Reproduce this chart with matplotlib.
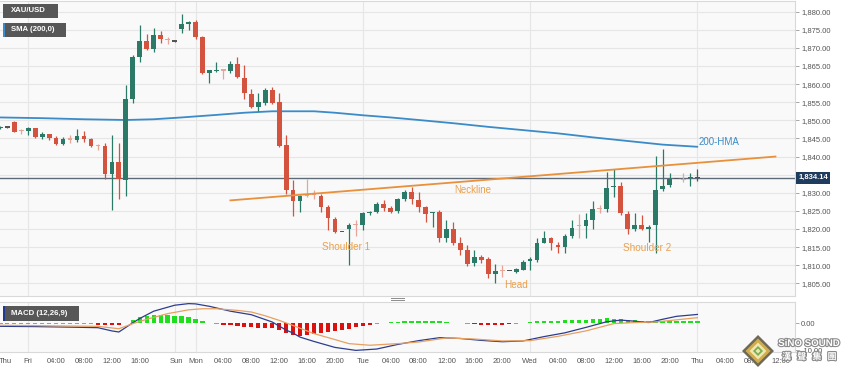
import matplotlib
matplotlib.use('Agg')
import matplotlib.pyplot as plt
import matplotlib.patheffects as pe
import matplotlib.transforms as mtransforms
from matplotlib.patches import Rectangle, Polygon
from matplotlib.lines import Line2D

plt.rcParams['font.family'] = ['Liberation Sans', 'DejaVu Sans']

# ---------------- data (hourly candles, weekend compressed) ----------------
candle_open = [1847.8, 1848.0, 1849.6, 1847.2, 1847.1, 1847.9, 1845.5, 1846.1, 1845.0, 1843.5,
               1844.9, 1844.6, 1845.7, 1844.8, 1843.0, 1843.0, 1835.1, 1838.4, 1833.4, 1855.8,
               1867.6, 1871.9, 1869.8, 1873.7, 1872.3, 1871.7, 1875.2, 1876.7, 1877.2, 1872.9,
               1863.2, 1863.6, 1863.8, 1863.7, 1865.6, 1861.8, 1857.4, 1853.6, 1854.9, 1858.4,
               1855.0, 1843.1, 1830.7, 1827.6, 1829.3, 1829.7, 1829.1, 1826.1, 1822.8, 1819.2,
               1819.9, 1821.3, 1821.0, 1824.3, 1824.6, 1827.0, 1825.7, 1824.9, 1828.2, 1830.1,
               1827.9, 1826.0, 1824.3, 1824.7, 1817.4, 1820.1, 1816.0, 1814.1, 1810.6, 1812.3,
               1811.6, 1807.5, 1808.4, 1808.4, 1808.1, 1808.8, 1811.2, 1811.4, 1816.0, 1817.4,
               1815.7, 1814.9, 1818.0, 1820.8, 1820.8, 1822.4, 1825.5, 1825.4, 1831.5, 1831.8,
               1824.1, 1819.9, 1821.2, 1819.9, 1821.2, 1831.1, 1832.1, 1833.8, 1833.6, 1834.0,
               1834.1]
candle_high = [1848.3, 1848.1, 1849.7, 1847.7, 1848.2, 1848.0, 1846.8, 1846.2, 1845.7, 1845.5,
               1846.0, 1847.6, 1847.1, 1845.2, 1843.5, 1843.7, 1846.0, 1843.8, 1859.8, 1868.0,
               1876.2, 1873.8, 1875.5, 1874.6, 1872.9, 1871.8, 1879.4, 1877.3, 1877.8, 1873.2,
               1864.0, 1866.0, 1863.9, 1866.4, 1867.5, 1865.3, 1858.6, 1857.5, 1858.9, 1859.2,
               1857.5, 1846.0, 1833.5, 1829.3, 1833.7, 1830.9, 1829.8, 1826.5, 1823.3, 1819.3,
               1821.7, 1822.6, 1824.7, 1824.9, 1827.4, 1828.0, 1826.4, 1828.5, 1830.8, 1831.7,
               1830.1, 1826.3, 1824.7, 1825.2, 1822.4, 1822.0, 1817.8, 1815.5, 1814.1, 1812.9,
               1812.3, 1810.4, 1810.0, 1808.5, 1809.1, 1811.5, 1812.3, 1817.6, 1819.4, 1817.8,
               1816.4, 1818.5, 1822.6, 1824.1, 1824.3, 1827.8, 1826.6, 1835.8, 1836.7, 1833.0,
               1824.9, 1824.3, 1823.9, 1821.2, 1840.1, 1842.0, 1835.5, 1833.9, 1835.5, 1835.5,
               1836.5]
candle_low = [1847.5, 1847.9, 1846.7, 1846.2, 1846.0, 1845.2, 1844.9, 1844.6, 1843.3, 1843.2,
              1843.8, 1843.9, 1843.9, 1842.6, 1841.8, 1833.8, 1825.2, 1828.4, 1829.2, 1854.8,
              1866.2, 1869.4, 1869.0, 1871.3, 1871.2, 1871.6, 1874.1, 1875.0, 1872.4, 1862.8,
              1860.4, 1863.4, 1861.5, 1863.0, 1861.8, 1856.0, 1853.3, 1852.7, 1854.3, 1854.5,
              1842.7, 1829.8, 1823.6, 1824.6, 1828.7, 1828.4, 1824.7, 1819.7, 1819.0, 1819.1,
              1810.0, 1818.0, 1819.7, 1823.9, 1824.3, 1825.0, 1824.3, 1824.3, 1827.8, 1826.8,
              1824.7, 1822.0, 1820.6, 1816.4, 1816.4, 1815.6, 1812.8, 1809.7, 1809.9, 1810.6,
              1806.6, 1805.1, 1806.7, 1808.3, 1807.8, 1808.6, 1808.6, 1810.8, 1816.0, 1814.3,
              1813.4, 1813.4, 1817.6, 1817.6, 1817.6, 1820.0, 1824.3, 1824.7, 1828.9, 1823.8,
              1818.7, 1819.5, 1819.6, 1816.4, 1813.4, 1830.6, 1831.6, 1833.7, 1832.9, 1831.9,
              1833.3]
candle_close = [1848.1, 1848.0, 1846.9, 1847.1, 1847.8, 1845.5, 1846.1, 1845.0, 1843.5, 1844.8,
                1844.7, 1845.7, 1844.9, 1843.0, 1842.8, 1835.2, 1838.4, 1833.9, 1856.0, 1867.5,
                1871.9, 1869.8, 1873.7, 1872.4, 1872.1, 1871.7, 1876.6, 1877.2, 1873.0, 1863.0,
                1863.8, 1863.7, 1863.7, 1865.6, 1861.9, 1857.5, 1853.6, 1855.0, 1858.4, 1854.9,
                1843.0, 1830.9, 1827.6, 1829.1, 1829.2, 1829.5, 1826.1, 1822.9, 1819.2, 1819.2,
                1821.2, 1821.1, 1824.3, 1824.6, 1827.0, 1825.7, 1824.7, 1828.2, 1830.1, 1828.2,
                1826.1, 1824.1, 1824.7, 1817.4, 1820.1, 1816.2, 1814.1, 1810.4, 1812.3, 1811.4,
                1807.5, 1808.4, 1808.3, 1808.4, 1808.9, 1810.9, 1811.6, 1816.0, 1817.4, 1816.0,
                1814.9, 1818.0, 1820.4, 1820.7, 1822.4, 1825.5, 1825.4, 1831.2, 1831.6, 1824.3,
                1820.1, 1821.2, 1819.9, 1820.6, 1830.9, 1831.8, 1833.7, 1833.8, 1833.5, 1834.1,
                1834.14]

last_price = 1834.14

# 200-HMA (read at selected candles)
hma_idx = [0, 6, 12, 18, 22, 26, 31, 35, 39, 45, 48, 52, 56, 60, 65, 70, 75, 80, 85, 90, 95, 100]
hma_values = [1850.8, 1850.6, 1850.3, 1850.1, 1850.3, 1850.8, 1851.5, 1852.1, 1852.5, 1852.5, 1852.1,
              1851.4, 1850.8, 1850.1, 1849.2, 1848.2, 1847.3, 1846.4, 1845.3, 1844.3, 1843.3, 1842.7]

# Neckline end points
neck_idx = [33, 111.2]
neck_price = [1827.9, 1840.0]

# MACD (12,26,9)
macd_idx = [0, 5, 10, 14, 16, 17, 18, 19, 20, 22, 25, 27, 28, 30, 33, 36, 39, 41, 42, 43, 45, 48,
            51, 54, 57, 60, 63, 66, 69, 72, 75, 78, 81, 84, 87, 89, 91, 93, 95, 97, 100]
macd_line = [-1.1, -1.2, -1.4, -1.6, -2.8, -3.2, -1.5, 0.2, 1.8, 4.5, 6.7, 7.3, 7.2, 6.3, 4.5, 3.2,
             0.5, -2.5, -3.6, -5.1, -6.7, -8.9, -10.0, -9.5, -7.8, -6.4, -5.3, -5.6, -6.3, -6.8,
             -6.5, -4.9, -3.5, -1.5, 0.6, 1.2, 0.8, 0.3, 1.5, 2.6, 3.3]
signal_idx = [0, 10, 14, 17, 19, 21, 24, 27, 29, 31, 34, 36, 38, 40, 42, 45, 48, 50, 53, 57, 60,
              64, 68, 72, 76, 80, 84, 88, 91, 94, 97, 100]
signal_line = [-0.7, -1.0, -1.1, -2.0, -0.1, 1.5, 3.6, 5.0, 5.4, 5.4, 4.8, 4.2, 2.8, 1.1, -0.8,
               -3.8, -6.0, -7.5, -8.1, -7.5, -6.9, -5.4, -5.8, -6.5, -6.4, -4.8, -2.8, -0.1, 0.3,
               0.5, 1.3, 2.1]
histogram = [-0.3, -0.3, -0.3, -0.3, -0.3, -0.3, -0.3, -0.3, -0.3, -0.3,
             -0.3, -0.3, -0.3, -0.3, -0.6, -0.7, -0.7, -0.6, 0.3, 1.4,
             2.2, 2.8, 3.2, 3.2, 3.0, 2.8, 2.6, 2.2, 1.6, 0.8,
             0.3, -0.3, -0.5, -0.7, -1.0, -1.3, -1.5, -1.6, -1.7, -1.9,
             -2.3, -3.4, -4.2, -4.5, -4.4, -4.0, -3.6, -3.2, -2.8, -2.4,
             -2.0, -1.4, -0.9, -0.5, -0.3, 0.3, 0.4, 0.6, 0.8, 0.9,
             1.0, 1.0, 0.9, 0.7, 0.5, 0.3, 0.3, -0.3, -0.4, -0.6,
             -0.7, -0.7, -0.6, -0.4, -0.3, 0.3, 0.4, 0.7, 0.8, 0.9,
             1.0, 1.1, 1.2, 1.3, 1.4, 1.6, 1.7, 1.8, 1.7, 1.5,
             1.3, 1.1, 1.0, 0.9, 1.0, 1.0, 1.0, 0.9, 0.9, 0.9,
             0.9]

# Time axis
tick_pos = [0.7, 4, 8, 12, 16, 20, 25.3, 28, 32, 36, 40, 44, 48, 52, 56, 60, 64, 68, 72,
            76, 80, 84, 88, 92, 96, 100, 104, 108, 112]
tick_labels = ['Thu', 'Fri', '04:00', '08:00', '12:00', '16:00', 'Sun', 'Mon', '04:00', '08:00',
               '12:00', '16:00', '20:00', 'Tue', '04:00', '08:00', '12:00', '16:00', '20:00',
               'Wed', '04:00', '08:00', '12:00', '16:00', '20:00', 'Thu', '04:00', '08:00', '12:00']
day_lines = [4, 25, 28, 52, 76, 100]
price_levels = list(range(1805, 1881, 5))
hidden_level = 1835  # covered by the last-price tag in the reference

# ---------------- figure ----------------
W, H = 845, 369
fig = plt.figure(figsize=(W / 100, H / 100), dpi=100)
fig.patch.set_facecolor('white')

ax = fig.add_axes([0, 1 - 296 / H, 795 / W, 295 / H])
axm = fig.add_axes([0, 1 - 352 / H, 795 / W, 50 / H])

BG = '#f9f9f9'
GRID = '#e6e6e6'
XLIM = (-0.05, 114.0)

for a in (ax, axm):
    a.set_facecolor(BG)
    a.set_xlim(*XLIM)
    a.spines['left'].set_visible(False)
    for s in ('top', 'right', 'bottom'):
        a.spines[s].set_color('#d9d9d9')
        a.spines[s].set_linewidth(0.8)
    for d in day_lines:
        a.axvline(d, color=GRID, lw=0.8, zorder=0)

# ---- main panel ----
ax.set_ylim(1801.5, 1882.95)
for lv in price_levels:
    ax.axhline(lv, color=GRID, lw=0.8, zorder=0)
shown = [lv for lv in price_levels if lv != hidden_level]
ax.set_yticks(shown)
ax.set_yticklabels(['{:,.2f}'.format(v) for v in shown])
ax.yaxis.tick_right()
ax.tick_params(axis='y', length=3, width=0.6, color='#9a9a9a', labelsize=5.5,
               labelcolor='#555555', pad=1.5)
ax.set_xticks([])

GREEN = '#2b7a68'
RED = '#d4533f'
LRED = '#e6a597'
DASH = '#555555'

xs = list(range(len(candle_open)))
cols, bottoms, heights = [], [], []
for o, c in zip(candle_open, candle_close):
    if abs(c - o) < 0.05:
        col = DASH
    elif c > o:
        col = GREEN
    elif o - c < 0.35:
        col = LRED
    else:
        col = RED
    cols.append(col)
    bottoms.append(min(o, c))
    heights.append(max(abs(c - o), 0.35))

ax.vlines(xs, candle_low, candle_high, colors=cols, lw=0.9, zorder=3)
ax.bar(xs, heights, bottom=bottoms, width=0.68, color=cols, linewidth=0, zorder=4)

ax.plot(hma_idx, hma_values, color='#3a8bc8', lw=1.3, zorder=2, solid_capstyle='round')
ax.plot(neck_idx, neck_price, color='#e8903c', lw=1.3, zorder=5)

ax.axhline(last_price, color='#5d6b79', lw=1.0, zorder=2)
trans = mtransforms.blended_transform_factory(ax.transAxes, ax.transData)
ax.text(1.004, last_price, '{:,.2f}'.format(last_price), transform=trans, ha='left',
        va='center', fontsize=5.5, color='white', fontweight='bold', zorder=10,
        bbox=dict(boxstyle='square,pad=0.3', fc='#1f3b5e', ec='none'), clip_on=False)

ANN = '#e8a04e'
ax.text(67.7, 1830.8, 'Neckline', color=ANN, fontsize=7, ha='center', va='center', zorder=6)
ax.text(49.6, 1814.9, 'Shoulder 1', color=ANN, fontsize=7.2, ha='center', va='center', zorder=6)
ax.text(74.0, 1804.5, 'Head', color=ANN, fontsize=7.2, ha='center', va='center', zorder=6)
ax.text(92.8, 1814.7, 'Shoulder 2', color=ANN, fontsize=7.2, ha='center', va='center', zorder=6)
ax.text(100.2, 1844.1, '200-HMA', color='#3a8bc8', fontsize=7, ha='left', va='center', zorder=6)

# ---- MACD panel ----
axm.set_ylim(-10.6, 7.9)
axm.set_yticks([0, -10])
axm.set_yticklabels(['0.00', '-10.00'])
axm.yaxis.tick_right()
axm.tick_params(axis='y', length=3, width=0.6, color='#9a9a9a', labelsize=5.5,
                labelcolor='#555555', pad=1.5)
axm.set_xticks(tick_pos)
axm.set_xticklabels(tick_labels)
axm.tick_params(axis='x', length=0, labelsize=5.5, labelcolor='#555555', pad=4)

hcols = []
for v in histogram:
    if v > 0:
        hcols.append('#1ede1e' if v > 0.35 else '#6fe36f')
    else:
        hcols.append('#dd1010' if v < -0.35 else '#e77a7a')
axm.bar(list(range(len(histogram))), histogram, width=0.62, color=hcols, linewidth=0, zorder=2)
axm.plot(macd_idx, macd_line, color='#2c3d8f', lw=0.9, zorder=3)
axm.plot(signal_idx, signal_line, color='#e8a060', lw=0.9, zorder=3)

# ---- legend boxes ----
def box(x0, y0, x1, y1, text, stripe=None):
    fig.add_artist(Rectangle((x0 / W, 1 - y1 / H), (x1 - x0) / W, (y1 - y0) / H,
                             transform=fig.transFigure, fc='#575757', ec='none', zorder=20))
    if stripe:
        fig.add_artist(Rectangle((x0 / W, 1 - y1 / H), 1.6 / W, (y1 - y0) / H,
                                 transform=fig.transFigure, fc=stripe, ec='none', zorder=21))
    fig.text((x0 + 8) / W, 1 - (y0 + y1) / 2 / H, text, color='white', fontsize=5.6,
             fontweight='bold', ha='left', va='center', zorder=22)

box(3.3, 4, 58.3, 17.5, 'XAU/USD')
box(3.3, 22.5, 66, 36.5, 'SMA (200,0)', stripe='#3a8bc8')
box(3.3, 306, 79.3, 320.5, 'MACD (12,26,9)', stripe='#1f3b8e')

# separator handle
for yy in (297.6, 299.8):
    fig.add_artist(Line2D([391 / W, 404 / W], [1 - yy / H, 1 - yy / H], color='#8c8c8c',
                          lw=0.7, transform=fig.transFigure, zorder=20))

# ---- watermark ----
def dia(cx, cy, r, fc):
    pts = [((cx) / W, 1 - (cy - r) / H), ((cx + r) / W, 1 - cy / H),
           ((cx) / W, 1 - (cy + r) / H), ((cx - r) / W, 1 - cy / H)]
    fig.add_artist(Polygon(pts, closed=True, transform=fig.transFigure, fc=fc, ec='none',
                           zorder=30))

dia(758, 351, 16, '#6f6a58')
dia(758, 351, 12.5, '#d2ad4c')
dia(758, 351, 8.5, '#efe7b0')
dia(758, 351, 5, '#79ad52')
dia(758, 351, 2.5, '#efe7b0')

stroke = [pe.withStroke(linewidth=1.6, foreground='#8a8a8a')]
fig.text(809 / W, 1 - 343 / H, 'SiNO SOUND', color='white', fontsize=7, fontweight='bold',
         ha='center', va='center', zorder=31, path_effects=stroke)
fig.text(809 / W, 1 - 357 / H, '漢   聲   集   團', color='white', fontsize=6.5,
         fontweight='bold', ha='center', va='center', zorder=31, path_effects=stroke,
         family=['Noto Sans CJK TC', 'DejaVu Sans'])

fig.savefig('out.png', dpi=100, facecolor='white')
